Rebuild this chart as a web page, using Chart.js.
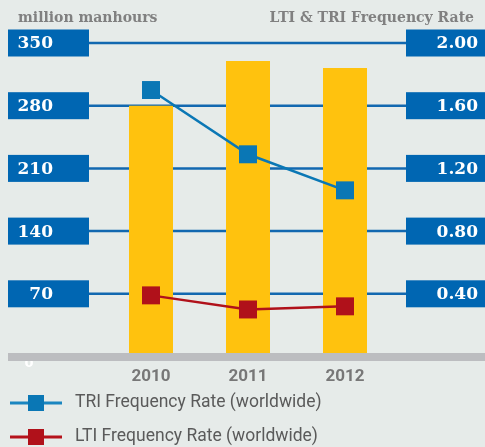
<!DOCTYPE html>
<html>
<head>
<meta charset="utf-8">
<script src="https://cdn.jsdelivr.net/npm/chart.js@4.4.1/dist/chart.umd.min.js"></script>
<style>
  html, body { margin: 0; padding: 0; background: #e6ebe9; }
  #chart { display: block; }
</style>
</head>
<body>
<canvas id="chart" width="485" height="447"></canvas>
<script>
// data
const years = ['2010', '2011', '2012'];
const manhours = [280, 330, 322];
const triRate = [1.70, 1.29, 1.06];
const ltiRate = [0.39, 0.30, 0.32];
const leftTicks = [70, 140, 210, 280, 350];
const rightTicks = [0.40, 0.80, 1.20, 1.60, 2.00];

const boxBlue = '#0066b2';
const gridBlue = '#1268b0';
const triColor = '#0a77b5';
const ltiColor = '#b0111a';

// grid lines, label boxes, baseline, titles, legend
const decorations = {
  id: 'decorations',
  beforeDatasetsDraw(chart) {
    const ctx = chart.ctx;
    const y = chart.scales.y;
    const y1 = chart.scales.y1;
    ctx.save();
    // titles
    ctx.fillStyle = '#808080';
    ctx.font = 'bold 14px "DejaVu Serif"';
    ctx.textBaseline = 'alphabetic';
    ctx.textAlign = 'left';
    ctx.fillText('million manhours', 18, 22);
    ctx.textAlign = 'right';
    ctx.fillText('LTI & TRI Frequency Rate', 474, 22);

    leftTicks.forEach((v, i) => {
      const py = y.getPixelForValue(v);
      ctx.strokeStyle = gridBlue;
      ctx.lineWidth = 2.5;
      ctx.beginPath();
      ctx.moveTo(89, py);
      ctx.lineTo(406, py);
      ctx.stroke();

      ctx.fillStyle = boxBlue;
      ctx.fillRect(8, py - 13.5, 81, 27);
      ctx.fillRect(406, y1.getPixelForValue(rightTicks[i]) - 13.5, 79, 27);

      ctx.fillStyle = '#ffffff';
      ctx.font = 'bold 17px "DejaVu Serif"';
      ctx.textBaseline = 'middle';
      ctx.textAlign = 'right';
      ctx.fillText(String(v), 53, py + 1);
      ctx.fillText(rightTicks[i].toFixed(2), 478, y1.getPixelForValue(rightTicks[i]) + 1);
    });

    // faint zero label peeking out under the baseline
    ctx.fillStyle = '#ffffff';
    ctx.font = 'bold 13px "DejaVu Sans"';
    ctx.textAlign = 'center';
    ctx.textBaseline = 'middle';
    ctx.fillText('0', 29, y.getPixelForValue(0) + 7);
    ctx.restore();
  },
  afterDatasetsDraw(chart) {
    const ctx = chart.ctx;
    const x = chart.scales.x;
    const y = chart.scales.y;
    ctx.save();
    // grey baseline
    const base = y.getPixelForValue(0);
    ctx.fillStyle = '#bcbdc0';
    ctx.fillRect(8, base - 3.5, 477, 8);

    // year labels
    ctx.fillStyle = '#777777';
    ctx.font = 'bold 17px Roboto';
    ctx.textAlign = 'center';
    ctx.textBaseline = 'middle';
    years.forEach((yr, i) => {
      ctx.fillText(yr, x.getPixelForValue(i), 377);
    });

    // legend
    const items = [
      { label: 'TRI Frequency Rate (worldwide)', line: '#1a86c0', mark: triColor, y: 403 },
      { label: 'LTI Frequency Rate (worldwide)', line: '#b5121b', mark: ltiColor, y: 437 }
    ];
    items.forEach(it => {
      ctx.strokeStyle = it.line;
      ctx.lineWidth = 3;
      ctx.beginPath();
      ctx.moveTo(10, it.y);
      ctx.lineTo(62, it.y);
      ctx.stroke();
      ctx.fillStyle = it.mark;
      ctx.fillRect(28, it.y - 8, 16, 16);
      ctx.fillStyle = '#5a5a5a';
      ctx.font = '17.5px Roboto';
      ctx.textAlign = 'left';
      ctx.textBaseline = 'middle';
      ctx.fillText(it.label, 75, it.y);
    });
    ctx.restore();
  }
};

new Chart(document.getElementById('chart'), {
  type: 'bar',
  data: {
    labels: years,
    datasets: [
      {
        type: 'line',
        label: 'TRI Frequency Rate (worldwide)',
        data: triRate,
        yAxisID: 'y1',
        borderColor: triColor,
        backgroundColor: triColor,
        borderWidth: 2.5,
        pointStyle: 'rect',
        pointRadius: 12.7,
        pointBorderWidth: 0,
        tension: 0,
        clip: false,
        order: 1
      },
      {
        type: 'line',
        label: 'LTI Frequency Rate (worldwide)',
        data: ltiRate,
        yAxisID: 'y1',
        borderColor: ltiColor,
        backgroundColor: ltiColor,
        borderWidth: 2.5,
        pointStyle: 'rect',
        pointRadius: 12.7,
        pointBorderWidth: 0,
        tension: 0,
        clip: false,
        order: 2
      },
      {
        label: 'million manhours',
        data: manhours,
        yAxisID: 'y',
        backgroundColor: '#ffc20e',
        barPercentage: 1,
        categoryPercentage: 0.4536,
        order: 3
      }
    ]
  },
  options: {
    responsive: false,
    animation: false,
    devicePixelRatio: 1,
    layout: {
      padding: { left: 102.5, right: 91.5, top: 43, bottom: 90.5 }
    },
    scales: {
      x: { display: false },
      y: { display: false, min: 0, max: 350 },
      y1: { display: false, min: 0, max: 2 }
    },
    plugins: {
      legend: { display: false },
      tooltip: { enabled: false }
    }
  },
  plugins: [decorations]
});
</script>
</body>
</html>
